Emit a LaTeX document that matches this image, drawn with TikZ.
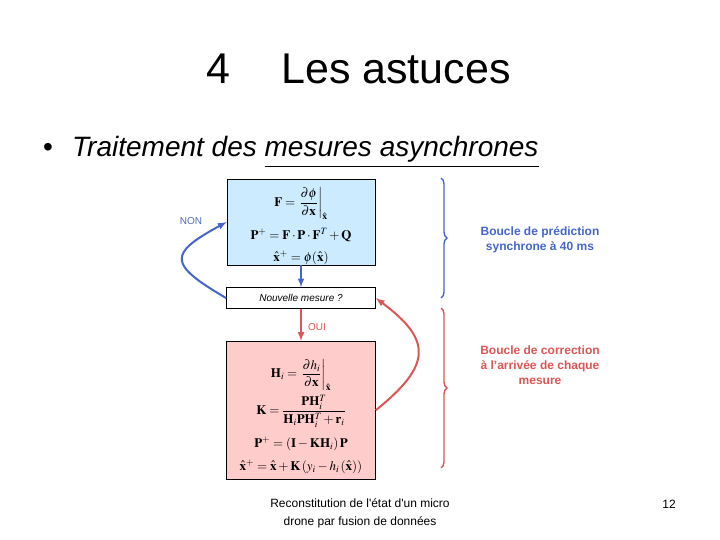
\documentclass[tikz,border=0pt]{standalone}
\usepackage{amsmath}
\usepackage{mathptmx}
\usepackage[no-math]{fontspec}
\setmainfont{Liberation Sans}
\usetikzlibrary{positioning,decorations.pathreplacing,arrows}

\definecolor{predblue}{HTML}{CCEBFF}
\definecolor{corrpink}{HTML}{FFCCCC}
\definecolor{loopblue}{HTML}{4466CC}
\definecolor{loopred}{HTML}{DD5555}

\begin{document}
\begin{tikzpicture}[
  x = 1pt, y = -1pt,
  box/.style = {draw, line width=0.6pt, inner sep=0pt, align=center},
  eq-box/.style = {box, font=\fontsize{13}{16}\selectfont},
  pred-box/.style = {eq-box, fill=predblue, minimum width=148pt, minimum height=86pt},
  meas-box/.style = {box, fill=white, minimum width=149pt, minimum height=21pt},
  corr-box/.style = {eq-box, fill=corrpink, minimum width=149pt, minimum height=138pt},
  blue-arrow/.style = {-latex, line width=2pt, draw=loopblue},
  red-arrow/.style = {-latex, line width=2pt, draw=loopred},
  loop-brace/.style = {decorate, decoration={brace, amplitude=6pt}, line width=1.4pt},
  loop-label/.style = {font=\fontsize{12}{15}\selectfont\bfseries, align=center},
  ]
  \useasboundingbox (0,0) rectangle (720,540);

  % titre
  \node[anchor=base] (secnum) at (218,84) {\fontsize{43}{50}\selectfont 4};
  \node[anchor=base west, inner sep=0pt] (title) at (281,84) {\fontsize{43}{50}\selectfont Les astuces};
  \node[anchor=base] (bullet) at (48,157) {\fontsize{28}{32}\selectfont •};
  \node[anchor=base west, inner sep=0pt] (subtitle) at (72,157)
    {\fontsize{28}{32}\selectfont\itshape Traitement des \underline{mesures asynchrones}};

  % boucles
  \node[pred-box] (pred) at (301,222) {\raisebox{-4pt}[\height][\depth]{\parbox{146pt}{\centering
    $\mathbf{F} = \left.\dfrac{\partial\boldsymbol{\phi}}{\partial\mathbf{x}}\right|_{\hat{\mathbf{x}}}$\\[8pt]
    $\mathbf{P}^{+} = \mathbf{F}\cdot\mathbf{P}\cdot\mathbf{F}^{T} + \mathbf{Q}$\\[6pt]
    $\hat{\mathbf{x}}^{+} = \boldsymbol{\phi}(\hat{\mathbf{x}})$}}};
  \node[meas-box, below=22pt of pred] (meas) {\fontsize{10}{12}\selectfont\itshape Nouvelle mesure ?};
  \node[corr-box, below=32pt of meas] (corr) {\raisebox{-6pt}[\height][\depth]{\parbox{147pt}{\centering
    $\mathbf{H}_i = \left.\dfrac{\partial h_i}{\partial\mathbf{x}}\right|_{\hat{\mathbf{x}}}$\\[3pt]
    $\mathbf{K} = \dfrac{\mathbf{P}\mathbf{H}_i^{T}}{\mathbf{H}_i\mathbf{P}\mathbf{H}_i^{T} + \mathbf{r}_i}$\\[8pt]
    $\mathbf{P}^{+} = \left(\mathbf{I} - \mathbf{K}\mathbf{H}_i\right)\mathbf{P}$\\[7pt]
    $\hat{\mathbf{x}}^{+} = \hat{\mathbf{x}} + \mathbf{K}\left(y_i - h_i\left(\hat{\mathbf{x}}\right)\right)$}}};

  \node[text=loopblue!80!gray] (non) at (191,221) {\fontsize{10}{12}\selectfont NON};
  \node[text=loopred] (oui) at (317,327) {\fontsize{10}{12}\selectfont OUI};

  \draw[blue-arrow] (pred) -- (meas);
  \draw[red-arrow] (meas) -- (corr);
  \draw[blue-arrow] (meas.west) .. controls (168,264) and (168,254) .. (pred.west);
  \draw[red-arrow] (corr.east) .. controls (432,365) and (432,340) .. (meas.east);

  % accolades
  \coordinate (pred-top) at (441,178);
  \coordinate (pred-bot) at (441,298);
  \coordinate (corr-top) at (441,308);
  \coordinate (corr-bot) at (441,468);
  \draw[loop-brace, loopblue] (pred-top) -- (pred-bot);
  \draw[loop-brace, loopred] (corr-top) -- (corr-bot);
  \node[loop-label, text=loopblue] (pred-label) at (540,240) {Boucle de prédiction\\synchrone à 40 ms};
  \node[loop-label, text=loopred] (corr-label) at (540,365) {Boucle de correction\\à l’arrivée de chaque\\mesure};

  % pied de page
  \node[align=center, font=\fontsize{12}{18}\selectfont] (footer) at (360,513)
    {Reconstitution de l\textquotesingle état d\textquotesingle un micro\\drone par fusion de données};
  \node[anchor=base, font=\fontsize{12}{18}\selectfont] (page) at (669,508) {12};
\end{tikzpicture}
\end{document}
